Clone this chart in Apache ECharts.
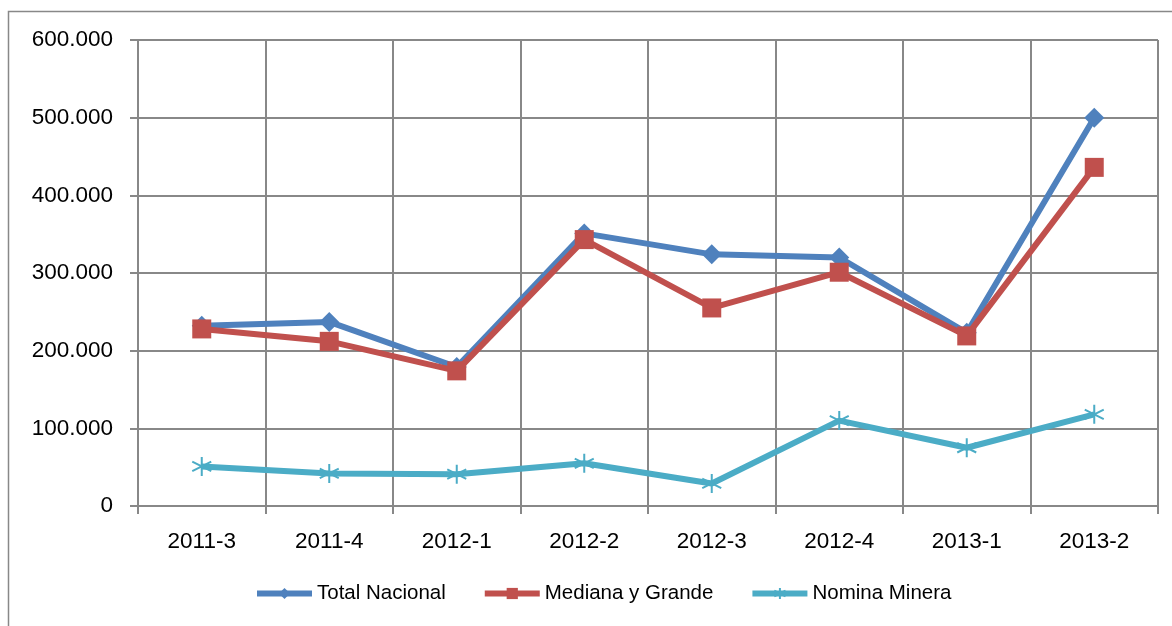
<!DOCTYPE html>
<html><head><meta charset="utf-8">
<script src="https://cdn.jsdelivr.net/npm/echarts@6/dist/echarts.min.js"></script>
<style>html,body{margin:0;padding:0;background:#fff}#c{width:1172px;height:626px}</style>
</head><body><div id="c"></div>
<script>
const categories = ['2011-3','2011-4','2012-1','2012-2','2012-3','2012-4','2013-1','2013-2'];
const totalNacional = [232000, 237000, 179000, 351000, 324000, 320000, 223000, 500000];
const medianaGrande = [228000, 212000, 174000, 343000, 255000, 301000, 219000, 436000];
const nominaMinera = [51000, 42000, 41000, 55000, 29000, 110000, 75000, 118000];
const yTicks = {min: 0, max: 600000, interval: 100000};

const star = 'path://M5,0L5,10M0.7,2.5L9.3,7.5M9.3,2.5L0.7,7.5';
const gridColor = '#888888';
const font = 'Liberation Sans';

function fmt(v) {
  return String(Math.round(v)).replace(/\B(?=(\d{3})+(?!\d))/g, '.');
}

const chart = echarts.init(document.getElementById('c'), null, {renderer: 'canvas'});
chart.setOption({
  animation: false,
  backgroundColor: '#fff',
  graphic: [{
    type: 'rect', shape: {x: 8.5, y: 11.5, width: 1200, height: 700},
    style: {fill: 'none', stroke: gridColor, lineWidth: 1.5}, silent: true
  }],
  grid: {left: 138, right: 14, top: 40, bottom: 120, containLabel: false},
  legend: {
    bottom: 17, left: 249, itemWidth: 55, itemHeight: 14, itemGap: 36,
    lineStyle: {width: 6},
    textStyle: {fontFamily: font, fontSize: 20.5, color: '#000'},
    data: ['Total Nacional', 'Mediana y Grande', 'Nomina Minera']
  },
  xAxis: {
    type: 'category', data: categories, boundaryGap: true,
    axisLine: {lineStyle: {color: gridColor, width: 2}},
    axisTick: {show: true, length: 8, lineStyle: {color: gridColor, width: 2}},
    axisLabel: {fontFamily: font, fontSize: 22.5, color: '#000', margin: 24},
    splitLine: {show: true, lineStyle: {color: gridColor, width: 2}}
  },
  yAxis: {
    type: 'value', min: yTicks.min, max: yTicks.max, interval: yTicks.interval,
    axisLine: {show: true, lineStyle: {color: gridColor, width: 2}},
    axisTick: {show: true, length: 8, lineStyle: {color: gridColor, width: 2}},
    axisLabel: {fontFamily: font, fontSize: 22.5, color: '#000', margin: 25, formatter: fmt},
    splitLine: {show: true, lineStyle: {color: gridColor, width: 2}}
  },
  series: [
    {name: 'Total Nacional', type: 'line', data: totalNacional, symbol: 'diamond', symbolSize: 20,
      lineStyle: {color: '#4F81BD', width: 6}, itemStyle: {color: '#4F81BD'}, z: 3},
    {name: 'Mediana y Grande', type: 'line', data: medianaGrande, symbol: 'rect', symbolSize: 19,
      lineStyle: {color: '#C0504D', width: 6}, itemStyle: {color: '#C0504D'}, z: 4},
    {name: 'Nomina Minera', type: 'line', data: nominaMinera, symbol: star, symbolSize: 19,
      lineStyle: {color: '#4BACC6', width: 6},
      itemStyle: {color: 'none', borderColor: '#4BACC6', borderWidth: 2}, z: 2}
  ]
});
</script></body></html>
